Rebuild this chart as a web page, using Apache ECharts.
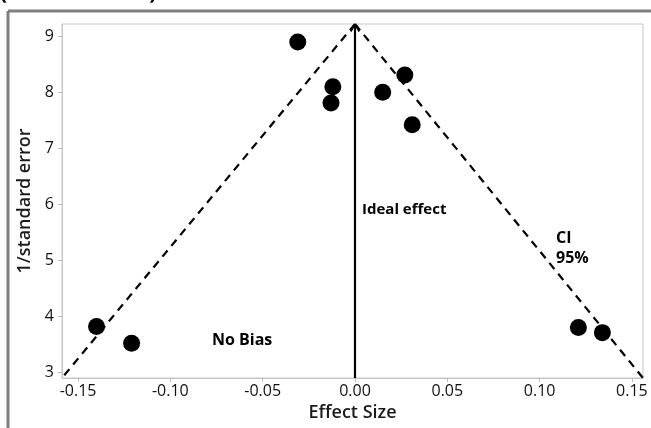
<!DOCTYPE html>
<html>
<head>
<meta charset="utf-8">
<script src="https://cdn.jsdelivr.net/npm/echarts@6/dist/echarts.min.js"></script>
<style>
html,body{margin:0;padding:0;background:#fff;}
#c{width:651px;height:428px;}
</style>
</head>
<body>
<div id="c"></div>
<script>
// Study points: [effect size, 1/standard error]
var effectSize = [-0.140, -0.121, -0.031, -0.012, -0.013, 0.015, 0.027, 0.031, 0.121, 0.134];
var invSE      = [3.82, 3.52, 8.90, 8.10, 7.81, 8.00, 8.31, 7.42, 3.80, 3.71];
var xTicks = [-0.15, -0.10, -0.05, 0.00, 0.05, 0.10, 0.15];
var yTicks = [3, 4, 5, 6, 7, 8, 9];
var xRange = [-0.1587, 0.156];
var yRange = [2.9, 9.22];
// Funnel (95% CI) lines and ideal effect line
var ciLeft  = [[0, 9.22], [-0.1587, 2.9]];
var ciRight = [[0, 9.22], [0.156, 2.9]];
var ideal   = [[0, 2.9], [0, 9.22]];

var pts = effectSize.map(function (x, i) { return [x, invSE[i]]; });
var font = '"Open Sans", "Noto Sans", sans-serif';

var chart = echarts.init(document.getElementById('c'));
chart.setOption({
  animation: false,
  backgroundColor: '#fff',
  grid: { left: 62, top: 24, right: 8, bottom: 50, show: true, borderColor: '#c6c6c6', borderWidth: 1 },
  xAxis: {
    type: 'value', min: xRange[0], max: xRange[1],
    name: 'Effect Size', nameLocation: 'middle', nameGap: 26,
    nameTextStyle: { fontFamily: font, fontSize: 18, fontWeight: 600, color: '#1a1a1a' },
    axisLine: { show: true, onZero: false, lineStyle: { color: '#c6c6c6' } },
    axisTick: { show: true, length: 4, lineStyle: { color: '#bbb' }, customValues: xTicks },
    axisLabel: { customValues: xTicks, margin: 5, fontFamily: font, fontSize: 16, color: '#111',
      formatter: function (v) { return v.toFixed(2); } },
    splitLine: { show: false }
  },
  yAxis: {
    type: 'value', min: yRange[0], max: yRange[1],
    name: '1/standard error', nameLocation: 'middle', nameGap: 28,
    nameTextStyle: { fontFamily: font, fontSize: 18, fontWeight: 600, color: '#1a1a1a' },
    axisLine: { show: true, onZero: false, lineStyle: { color: '#c6c6c6' } },
    axisTick: { show: true, length: 4, lineStyle: { color: '#bbb' }, customValues: yTicks },
    axisLabel: { customValues: yTicks, margin: 8, fontFamily: font, fontSize: 16, color: '#111' },
    splitLine: { show: false }
  },
  series: [
    { type: 'line', data: ciLeft, symbol: 'none', lineStyle: { color: '#000', width: 2.2, type: [8, 6] }, z: 2 },
    { type: 'line', data: ciRight, symbol: 'none', lineStyle: { color: '#000', width: 2.2, type: [8, 6] }, z: 2 },
    { type: 'line', data: [
        { value: ideal[0], symbol: 'none' },
        { value: ideal[1], symbol: 'path://M0,8 L5,0 L10,8 L8.6,9 L5,2.6 L1.4,9 Z', symbolSize: [10, 8], symbolOffset: [0, 4] }
      ], lineStyle: { color: '#000', width: 2.2 }, itemStyle: { color: '#000', opacity: 1 }, z: 2 },
    { type: 'scatter', data: pts, symbol: 'circle', symbolSize: 17, itemStyle: { color: '#000', opacity: 1 }, z: 3 }
  ],
  graphic: [
    { type: 'text', left: 0, top: -17, style: { text: '(n = 10 studies)', font: 'bold 21px ' + font, fill: '#000' } },
    { type: 'line', shape: { x1: 8, y1: 11, x2: 651, y2: 11 }, style: { stroke: '#7f7f7f', lineWidth: 3 } },
    { type: 'line', shape: { x1: 8, y1: 11, x2: 8, y2: 428 }, style: { stroke: '#7f7f7f', lineWidth: 3 } },
    { type: 'text', left: 362, top: 202, style: { text: 'Ideal effect', font: 'bold 15px ' + font, fill: '#000' } },
    { type: 'text', left: 556, top: 230, style: { text: 'CI', font: 'bold 16px ' + font, fill: '#000' } },
    { type: 'text', left: 556, top: 250, style: { text: '95%', font: 'bold 16px ' + font, fill: '#000' } },
    { type: 'text', left: 212, top: 332, style: { text: 'No Bias', font: 'bold 16px ' + font, fill: '#000' } }
  ]
});
</script>
</body>
</html>
